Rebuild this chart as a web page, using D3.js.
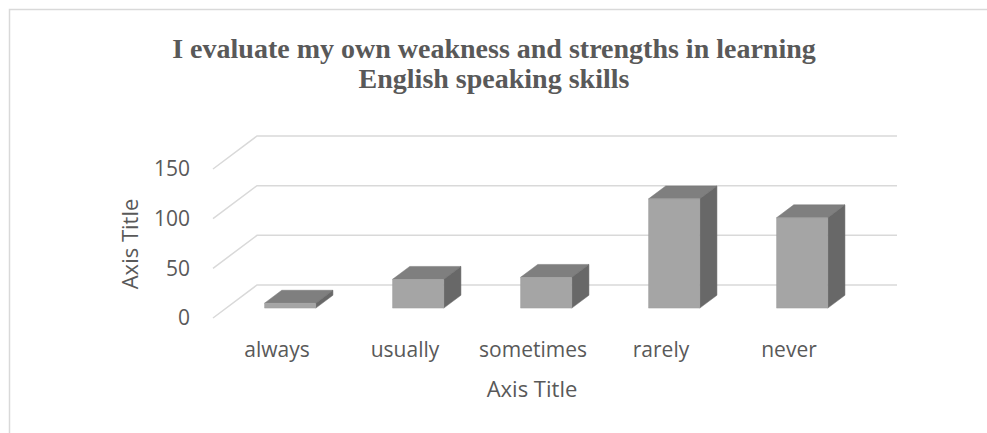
<!DOCTYPE html>
<html>
<head>
<meta charset="utf-8">
<script src="https://cdn.jsdelivr.net/npm/d3@7"></script>
<style>
  body { margin: 0; background: #fff; }
  text { fill: #595959; }
</style>
</head>
<body>
<svg id="svg1" width="987" height="433"></svg>
<script>
var categories = ["always", "usually", "sometimes", "rarely", "never"];
var values = [5, 29, 31, 110, 91];
var yTicks = [0, 50, 100, 150];
var titleLines = ["I evaluate my own weakness and strengths in learning", "English speaking skills"];
var xTitle = "Axis Title", yTitle = "Axis Title";

var svg = d3.select("#svg1");

// depth offset of the 3d box (front -> back wall)
var DX = 44, DY = -33;
function proj(x, y, d) { return [x + DX * d, y + DY * d]; }

var x = d3.scaleBand()
  .domain(categories)
  .range([213, 853]);
var y = d3.scaleLinear()
  .domain([0, 150])
  .range([318, 169]);

// chart border
svg.append("rect")
  .attr("x", 9.5).attr("y", 9.5)
  .attr("width", 1000).attr("height", 440)
  .attr("fill", "none")
  .attr("stroke", "#d9d9d9")
  .attr("stroke-width", 1.5);

// title
svg.append("g").selectAll("text")
  .data(titleLines)
  .enter().append("text")
  .attr("x", 494)
  .attr("y", function(d, i) { return 58 + i * 30; })
  .attr("text-anchor", "middle")
  .attr("font-family", "'Liberation Serif', 'Times New Roman', serif")
  .attr("font-weight", "bold")
  .attr("font-size", 28)
  .text(function(d) { return d; });

// gridlines: side wall diagonals + back wall horizontals
var x0 = x.range()[0], x1 = x.range()[1];
var grid = svg.append("g")
  .attr("stroke", "#d9d9d9")
  .attr("stroke-width", 1.5)
  .attr("fill", "none");
grid.selectAll("path")
  .data(yTicks)
  .enter().append("path")
  .attr("d", function(t) {
    var a = proj(x0, y(t), 0), b = proj(x0, y(t), 1), c = proj(x1, y(t), 1);
    return "M" + a + "L" + b + "L" + c;
  });

// y tick labels
svg.append("g").selectAll("text")
  .data(yTicks)
  .enter().append("text")
  .attr("x", 190)
  .attr("y", function(d) { return y(d); })
  .attr("dy", "0.35em")
  .attr("text-anchor", "end")
  .attr("font-family", "'Open Sans', sans-serif")
  .attr("font-size", 21)
  .text(function(d) { return d; });

// x category labels
svg.append("g").selectAll("text")
  .data(categories)
  .enter().append("text")
  .attr("x", function(d) { return x(d) + x.bandwidth() / 2; })
  .attr("y", 350)
  .attr("dy", "0.35em")
  .attr("text-anchor", "middle")
  .attr("font-family", "'Open Sans', sans-serif")
  .attr("font-size", 21)
  .text(function(d) { return d; });

// axis titles
svg.append("text")
  .attr("x", 532).attr("y", 389)
  .attr("dy", "0.35em")
  .attr("text-anchor", "middle")
  .attr("font-family", "'Open Sans', sans-serif")
  .attr("font-size", 22)
  .text(xTitle);
svg.append("text")
  .attr("transform", "translate(130,244) rotate(-90)")
  .attr("dy", "0.35em")
  .attr("text-anchor", "middle")
  .attr("font-family", "'Open Sans', sans-serif")
  .attr("font-size", 22)
  .text(yTitle);

// 3d bars
var d0 = 0.3, d1 = 0.69, half = x.bandwidth() * 0.2;
var bars = svg.append("g").selectAll("g")
  .data(categories.map(function(c, i) { return {cat: c, v: values[i]}; }))
  .enter().append("g");

function poly(pts) { return "M" + pts.join("L") + "Z"; }

bars.append("path") // top
  .attr("fill", "#7f7f7f")
  .attr("stroke", "#777")
  .attr("stroke-width", 0.5)
  .attr("d", function(d) {
    var cx = x(d.cat) + x.bandwidth() / 2, l = cx - half, r = cx + half, t = y(d.v);
    return poly([proj(l, t, d0), proj(r, t, d0), proj(r, t, d1), proj(l, t, d1)]);
  });
bars.append("path") // side
  .attr("fill", "#686868")
  .attr("stroke", "#6f6f6f")
  .attr("stroke-width", 0.5)
  .attr("d", function(d) {
    var cx = x(d.cat) + x.bandwidth() / 2, r = cx + half, t = y(d.v), b = y(0);
    return poly([proj(r, t, d0), proj(r, t, d1), proj(r, b, d1), proj(r, b, d0)]);
  });
bars.append("path") // front
  .attr("fill", "#a5a5a5")
  .attr("stroke", "#9a9a9a")
  .attr("stroke-width", 0.5)
  .attr("d", function(d) {
    var cx = x(d.cat) + x.bandwidth() / 2, l = cx - half, r = cx + half, t = y(d.v), b = y(0);
    return poly([proj(l, t, d0), proj(r, t, d0), proj(r, b, d0), proj(l, b, d0)]);
  });
</script>
</body>
</html>
